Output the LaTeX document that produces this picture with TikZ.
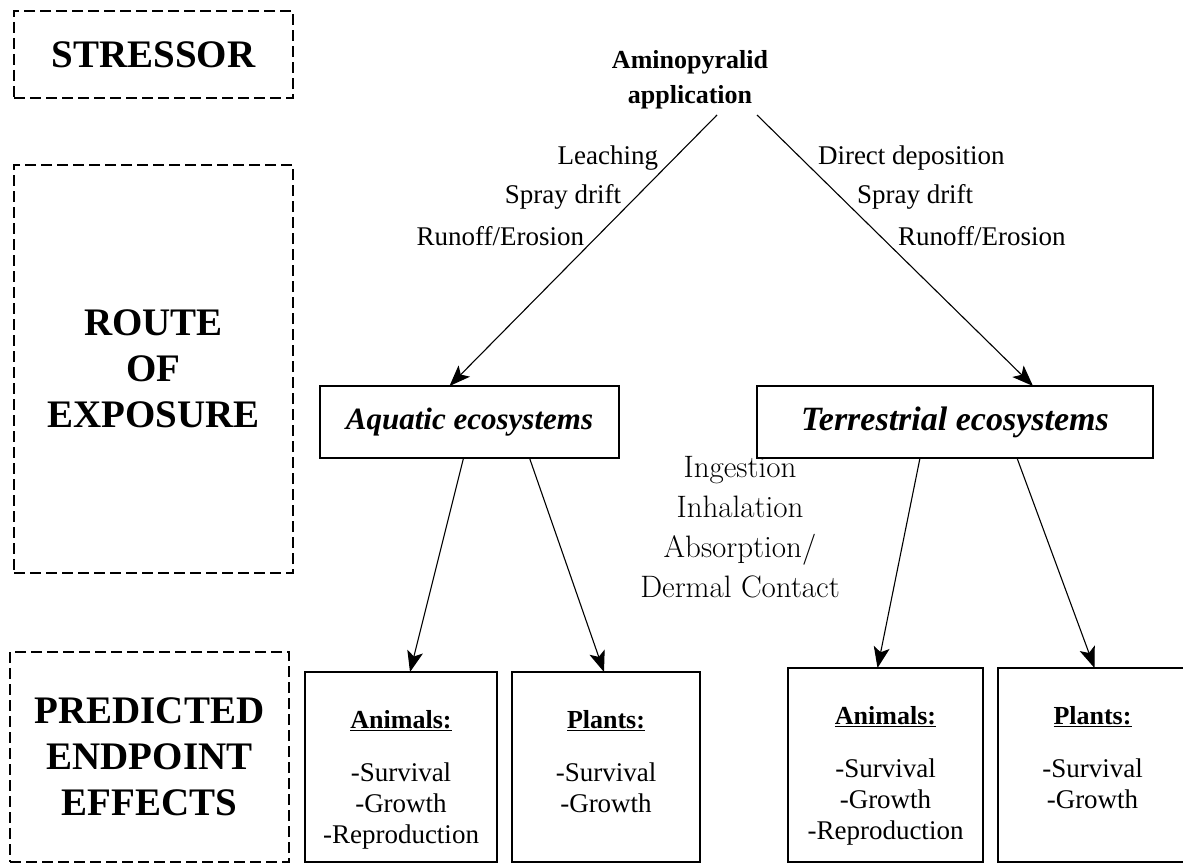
\documentclass[tikz,border=0pt]{standalone}
\usepackage{fontspec}
\newfontfamily\tnr{Liberation Serif}
\usetikzlibrary{arrows.meta,positioning}

\begin{document}
\begin{tikzpicture}[x=1pt,y=-1pt,
    every node/.style={inner sep=0pt, outer sep=0pt},
    head/.style={font=\tnr\bfseries\fontsize{39}{46}\selectfont, align=center},
    stage/.style={draw, line width=2.4pt, dash pattern=on 11pt off 5pt},
    eco/.style={draw, minimum height=72pt, font=\tnr\bfseries\itshape},
    endbox/.style={draw, line width=2.4pt, minimum height=190pt},
    endtxt/.style={font=\tnr\fontsize{27}{31}\selectfont, align=center, below=38pt of #1},
    route/.style={font=\tnr\fontsize{27}{40}\selectfont},
    link/.style={line width=1.1pt, -{Stealth[length=21pt,width=16pt,inset=5pt]}}]

  \useasboundingbox (0,0) rectangle (1183,867);

  % left column
  \node[stage, head, minimum width=279pt, minimum height=87pt] (stressor) at (153.5,54.5) {STRESSOR};
  \node[stage, head, minimum width=279pt, minimum height=408pt] (route) at (153.5,369) {ROUTE\\OF\\EXPOSURE};
  \node[stage, head, minimum width=279pt, minimum height=210pt] (predicted) at (149.5,757) {PREDICTED\\ENDPOINT\\EFFECTS};

  % stressor and ecosystems
  \node[font=\tnr\bfseries\fontsize{26}{35}\selectfont, align=center] (app) at (690,80) {Aminopyralid\\application};
  \node[eco, line width=1.6pt, minimum width=299pt] (aqua) at (469.5,422) {\fontsize{31}{36}\selectfont Aquatic ecosystems};
  \node[eco, line width=2.4pt, minimum width=396pt] (terr) at (955,422) {\fontsize{34}{40}\selectfont Terrestrial ecosystems};

  \coordinate (appL) at (717,115);
  \coordinate (appR) at (757,115);
  \draw[link] (appL) -- ([xshift=-20pt]aqua.north);
  \draw[link] (appR) -- ([xshift=78pt]terr.north);

  % routes
  \node[route, anchor=east] (leach) at (658,158) {Leaching};
  \node[route, anchor=east] (driftL) at (621,197) {Spray drift};
  \node[route, anchor=east] (runL) at (584,236) {Runoff/Erosion};
  \node[route, anchor=west] (direct) at (818,158) {Direct deposition};
  \node[route, anchor=west] (driftR) at (857,197) {Spray drift};
  \node[route, anchor=west] (runR) at (898,236) {Runoff/Erosion};
  \node[font=\fontsize{31}{40}\selectfont, align=center] (uptake) at (740,527)
    {Ingestion\\Inhalation\\Absorption/\\Dermal Contact};

  % endpoints
  \node[endbox, minimum width=192pt] (an1) at (401,767) {};
  \node[endbox, minimum width=188pt] (pl1) at (606,767) {};
  \node[endbox, minimum width=195pt, minimum height=194pt] (an2) at (885.5,765) {};
  \node[endbox, minimum width=189pt, minimum height=194pt] (pl2) at (1092.5,765) {};

  \node[endtxt=an1.north] (an1t) {\textbf{\fontsize{26}{31}\selectfont\underline{Animals:}}\\[22pt]-Survival\\-Growth\\-Reproduction};
  \node[endtxt=pl1.north] (pl1t) {\textbf{\fontsize{26}{31}\selectfont\underline{Plants:}}\\[22pt]-Survival\\-Growth};
  \node[endtxt=an2.north] (an2t) {\textbf{\fontsize{26}{31}\selectfont\underline{Animals:}}\\[22pt]-Survival\\-Growth\\-Reproduction};
  \node[endtxt=pl2.north] (pl2t) {\textbf{\fontsize{26}{31}\selectfont\underline{Plants:}}\\[22pt]-Survival\\-Growth};

  \draw[link] ([xshift=-6pt]aqua.south) -- ([xshift=9pt]an1.north);
  \draw[link] ([xshift=60pt]aqua.south) -- ([xshift=-2pt]pl1.north);
  \draw[link] ([xshift=-35pt]terr.south) -- ([xshift=-8pt]an2.north);
  \draw[link] ([xshift=62pt]terr.south) -- ([xshift=2pt]pl2.north);
\end{tikzpicture}
\end{document}
